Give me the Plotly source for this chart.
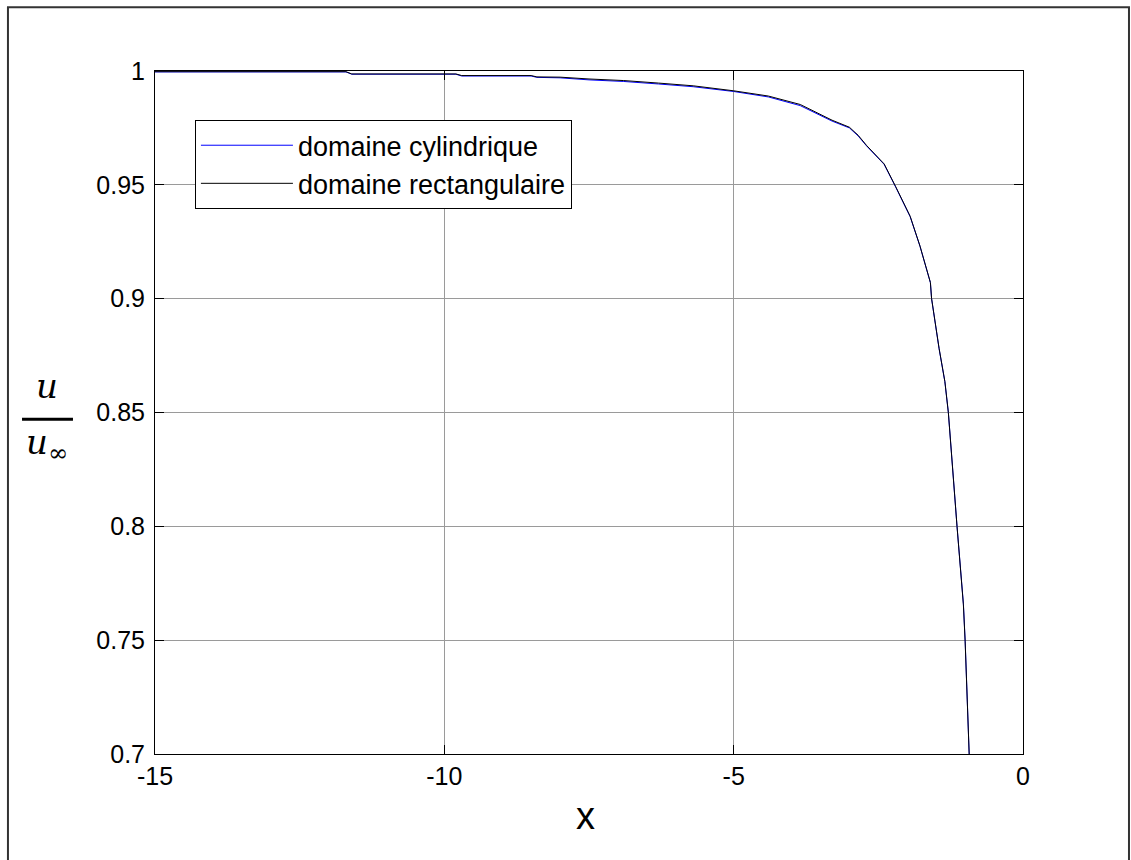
import plotly.graph_objects as go

# Velocity ratio u/u_inf along the upstream axis, two computational domains
x_cyl = [-15.0, -11.7, -11.6, -9.8, -9.7, -8.5, -8.4, -8.0, -7.5, -6.9, -6.3,
         -5.7, -5.0, -4.4, -3.85, -3.3, -3.0, -2.85, -2.7, -2.4, -2.2, -1.95,
         -1.78, -1.6, -1.58, -1.45, -1.35, -1.29, -1.14, -1.03, -1.0, -0.93]
u_cyl = [0.9996, 0.9996, 0.9986, 0.9986, 0.9978, 0.9978, 0.9972, 0.9970,
         0.9961, 0.9954, 0.9943, 0.9931, 0.9910, 0.9886, 0.9848, 0.9780,
         0.9750, 0.9715, 0.9670, 0.9590, 0.9490, 0.9360, 0.9230, 0.9070,
         0.9000, 0.8780, 0.8635, 0.8500, 0.8000, 0.7660, 0.7500, 0.7000]

x_rect = [-15.0, -11.7, -11.6, -9.8, -9.7, -8.5, -8.4, -8.0, -7.5, -6.9, -6.3,
          -5.7, -5.0, -4.4, -3.85, -3.3, -3.0, -2.85, -2.7, -2.4, -2.2, -1.95,
          -1.78, -1.6, -1.58, -1.45, -1.35, -1.29, -1.14, -1.03, -1.0, -0.93]
u_rect = [0.9997, 0.9997, 0.9987, 0.9987, 0.9980, 0.9980, 0.9974, 0.9973,
          0.9965, 0.9958, 0.9947, 0.9935, 0.9913, 0.9890, 0.9853, 0.9784,
          0.9753, 0.9718, 0.9672, 0.9592, 0.9492, 0.9362, 0.9231, 0.9071,
          0.9001, 0.8782, 0.8636, 0.8500, 0.8000, 0.7655, 0.7495, 0.7000]

x_ticks = [-15, -10, -5, 0]
x_tick_labels = ["-15", "-10", "-5", "0"]
y_ticks = [0.7, 0.75, 0.8, 0.85, 0.9, 0.95, 1.0]
y_tick_labels = ["0.7", "0.75", "0.8", "0.85", "0.9", "0.95", "1"]

FONT = "Liberation Sans, Arial, sans-serif"

fig = go.Figure()
fig.add_trace(go.Scatter(x=x_cyl, y=u_cyl, mode="lines",
                         name="domaine cylindrique",
                         line=dict(color="#0000ff", width=1)))
fig.add_trace(go.Scatter(x=x_rect, y=u_rect, mode="lines",
                         name="domaine rectangulaire",
                         line=dict(color="#000000", width=1)))

axis_common = dict(
    showline=True, linecolor="black", linewidth=1, mirror="ticks",
    ticks="inside", ticklen=9, tickcolor="black", tickwidth=1,
    showgrid=True, gridcolor="#9a9a9a", gridwidth=1,
    zeroline=False, tickfont=dict(family=FONT, size=25, color="black"),
)

fig.update_xaxes(range=[-15, 0], tickvals=x_ticks, ticktext=x_tick_labels,
                 **axis_common)
fig.update_yaxes(range=[0.7, 1.0], tickvals=y_ticks, ticktext=y_tick_labels,
                 ticklabelstandoff=4, **axis_common)

fig.update_layout(
    width=1131, height=860,
    margin=dict(l=155, r=108, t=71, b=106),
    paper_bgcolor="white", plot_bgcolor="white",
    font=dict(family=FONT, color="black"),
    legend=dict(x=0.046, y=0.928, xanchor="left", yanchor="top",
                bgcolor="white", bordercolor="black", borderwidth=1,
                font=dict(family=FONT, size=27), itemwidth=92,
                tracegroupgap=0),
    showlegend=True,
)

# x-axis label
fig.add_annotation(text="x", xref="paper", yref="paper", x=0.4954, y=-0.091,
                   xanchor="center", yanchor="middle", showarrow=False,
                   font=dict(family=FONT, size=38, color="black"))

# y-axis label as a fraction u / u_inf
SERIF = "DejaVu Serif, Liberation Serif, serif"
fig.add_annotation(text="<i>u</i>", xref="paper", yref="paper",
                   x=-0.1244, y=0.5386, xanchor="center", yanchor="middle",
                   showarrow=False, font=dict(family=SERIF, size=34, color="black"))
fig.add_annotation(text="<i>u</i><sub>∞</sub>", xref="paper", yref="paper",
                   x=-0.1244, y=0.4537, xanchor="center", yanchor="middle",
                   showarrow=False, font=dict(family=SERIF, size=34, color="black"))
fig.add_shape(type="line", xref="paper", yref="paper",
              x0=-0.1532, x1=-0.0945, y0=0.4903, y1=0.4903,
              line=dict(color="black", width=3))

# figure frame
fig.add_shape(type="rect", xref="paper", yref="paper",
              x0=-0.1694, x1=1.1221, y0=-0.2, y1=1.0932,
              line=dict(color="#333333", width=2), fillcolor="rgba(0,0,0,0)",
              layer="below")

fig.write_html("out.html")
